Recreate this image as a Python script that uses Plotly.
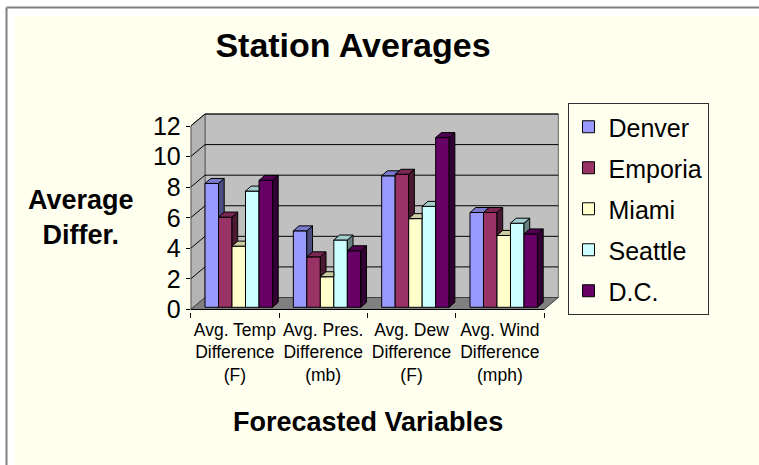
import plotly.graph_objects as go

# ---- data -------------------------------------------------------------
categories = [
    "Avg. Temp<br>Difference<br>(F)",
    "Avg. Pres.<br>Difference<br>(mb)",
    "Avg. Dew<br>Difference<br>(F)",
    "Avg. Wind<br>Difference<br>(mph)",
]
stations = ["Denver", "Emporia", "Miami", "Seattle", "D.C."]
denver = [8.1, 5.0, 8.6, 6.2]
emporia = [5.9, 3.3, 8.7, 6.2]
miami = [4.0, 2.0, 5.8, 4.7]
seattle = [7.6, 4.4, 6.6, 5.5]
dc = [8.3, 3.7, 11.1, 4.8]
y_ticks = [0, 2, 4, 6, 8, 10, 12]

series = [denver, emporia, miami, seattle, dc]
colors = ["#9999FF", "#993366", "#FFFFCC", "#CCFFFF", "#660066"]

# ---- page / projection geometry (pixels) -------------------------------
W, H = 759, 465
FONT = "Liberation Sans, Arial, sans-serif"
X_LEFT_PX = 190.7      # px of x = -0.5 (front-left corner of the box)
UNIT_X = 88.33         # px per category
Y_ZERO_PX = 309.5      # px of y = 0 on the front edge
UNIT_Y = 15.29         # px per value unit

WALL_DX = 14.3 / UNIT_X    # depth of the 3-D box, in axis units
WALL_DY = 12.0 / UNIT_Y
BAR_W = 13.5 / UNIT_X      # bar width
BAR_START = 14.3 / UNIT_X - 0.5
BAR_DX = 5.7 / UNIT_X      # depth of a single bar
BAR_DY = 5.0 / UNIT_Y
LIFT = 2.2 / UNIT_Y        # bars stand slightly back on the floor

x_min, x_max = -0.5, 3.5 + 16.0 / UNIT_X
y_min = -(312.0 - Y_ZERO_PX) / UNIT_Y
y_max = (Y_ZERO_PX - 112.0) / UNIT_Y
x_dom = [X_LEFT_PX / W, (X_LEFT_PX + (x_max - x_min) * UNIT_X) / W]
y_dom = [1 - 312.0 / H, 1 - 112.0 / H]


def px(x):
    return x / W


def py(y):
    return 1 - y / H


def shade(hex_color, f):
    r, g, b = (int(hex_color[i:i + 2], 16) for i in (1, 3, 5))
    return "#%02X%02X%02X" % (int(r * f), int(g * f), int(b * f))


def clip_half(poly, axis, bound, sign):
    out = []
    n = len(poly)
    for i in range(n):
        a, b = poly[i], poly[(i + 1) % n]
        da = sign * (a[axis] - bound)
        db = sign * (b[axis] - bound)
        if da >= 0:
            out.append(a)
        if (da >= 0) != (db >= 0):
            t = da / (da - db)
            out.append((a[0] + t * (b[0] - a[0]), a[1] + t * (b[1] - a[1])))
    return out


def side_face(xr, b, t, h):
    poly = [(xr, b), (xr + BAR_DX, b + BAR_DY), (xr + BAR_DX, t + BAR_DY), (xr, t)]
    if h is not None:
        poly = clip_half(poly, 1, h, 1)
    return poly


def top_face(xl, xr, t, h):
    if h is None or h <= t:
        return [(xl, t), (xl + BAR_DX, t + BAR_DY), (xr + BAR_DX, t + BAR_DY), (xr, t)]
    if h >= t + BAR_DY:
        return [(xl, t), (xl + BAR_DX, t + BAR_DY), (xr, t + BAR_DY), (xr, t)]
    xm = xr + (h - t) / BAR_DY * BAR_DX
    return [(xl, t), (xl + BAR_DX, t + BAR_DY), (xr + BAR_DX, t + BAR_DY),
            (xm, h), (xr, h), (xr, t)]


def to_xy(polys):
    xs, ys = [], []
    for p in polys:
        if len(p) < 3:
            continue
        xs += [q[0] for q in p] + [p[0][0], None]
        ys += [q[1] for q in p] + [p[0][1], None]
    return xs, ys


fig = go.Figure()
cat_idx = list(range(len(categories)))

# front faces of the columns
for k, (name, vals, col) in enumerate(zip(stations, series, colors)):
    fig.add_trace(go.Bar(
        x=cat_idx, y=vals, base=LIFT, name=name, legendgroup=name,
        width=BAR_W, offset=BAR_START + k * BAR_W,
        marker=dict(color=col, line=dict(color="black", width=1)),
    ))

# side and top faces, hidden where the next column stands in front
for k, (vals, col) in enumerate(zip(series, colors)):
    sides, tops = [], []
    for i, v in enumerate(vals):
        xl = i + BAR_START + k * BAR_W
        xr = xl + BAR_W
        t = LIFT + v
        h = LIFT + series[k + 1][i] if k + 1 < len(series) else None
        sides.append(side_face(xr, LIFT, t, h))
        tops.append(top_face(xl, xr, t, h))
    for polys, f in ((sides, 0.5), (tops, 0.8)):
        xs, ys = to_xy(polys)
        fig.add_trace(go.Scatter(
            x=xs, y=ys, mode="lines", fill="toself",
            fillcolor=shade(col, f), line=dict(color="black", width=1),
            showlegend=False, hoverinfo="skip", legendgroup=stations[k],
        ))

# ---- 3-D frame: floor, walls and gridlines -----------------------------
shapes = [
    dict(type="rect", xref="paper", yref="paper", x0=px(15), x1=1, y0=0, y1=py(16),
         fillcolor="#FFFFF0", line=dict(width=0), layer="below"),
    dict(type="line", xref="paper", yref="paper", x0=px(6.5), x1=1, y0=py(7.5), y1=py(7.5),
         line=dict(color="#808080", width=2), layer="below"),
    dict(type="line", xref="paper", yref="paper", x0=px(6.5), x1=px(6.5), y0=0, y1=py(7.5),
         line=dict(color="#808080", width=2), layer="below"),
]
xa, xb = -0.5, 3.5
top_v = y_ticks[-1]
shapes.append(dict(  # back wall
    type="path", xref="x", yref="y", layer="below",
    path=f"M{xa + WALL_DX},{WALL_DY} L{xb + WALL_DX},{WALL_DY} L{xb + WALL_DX},{top_v + WALL_DY} "
         f"L{xa + WALL_DX},{top_v + WALL_DY} Z",
    fillcolor="#C0C0C0", line=dict(color="#606060", width=1)))
shapes.append(dict(  # left wall
    type="path", xref="x", yref="y", layer="below",
    path=f"M{xa},0 L{xa + WALL_DX},{WALL_DY} L{xa + WALL_DX},{top_v + WALL_DY} L{xa},{top_v} Z",
    fillcolor="#B4B4B4", line=dict(color="#606060", width=1)))
shapes.append(dict(  # floor
    type="path", xref="x", yref="y", layer="below",
    path=f"M{xa},0 L{xa + WALL_DX},{WALL_DY} L{xb + WALL_DX},{WALL_DY} L{xb},0 Z",
    fillcolor="#808080", line=dict(color="#404040", width=1)))
for t in y_ticks[1:]:
    shapes.append(dict(type="line", xref="x", yref="y", layer="below",
                       x0=xa + WALL_DX, x1=xb + WALL_DX, y0=t + WALL_DY, y1=t + WALL_DY,
                       line=dict(color="black", width=1)))
    shapes.append(dict(type="line", xref="x", yref="y", layer="below",
                       x0=xa, x1=xa + WALL_DX, y0=t, y1=t + WALL_DY,
                       line=dict(color="black", width=1)))
shapes.append(dict(type="line", xref="x", yref="y", layer="below",
                   x0=xa, x1=xa, y0=0, y1=top_v, line=dict(color="black", width=1)))
shapes.append(dict(type="line", xref="x", yref="y", layer="below",
                   x0=xa, x1=xb, y0=0, y1=0, line=dict(color="black", width=1)))

fig.update_layout(
    width=W, height=H,
    margin=dict(l=0, r=0, t=0, b=0),
    paper_bgcolor="white",
    plot_bgcolor="rgba(0,0,0,0)",
    barmode="overlay",
    font=dict(family=FONT, color="black"),
    shapes=shapes,
    title=dict(text="Station Averages", x=353 / W, xanchor="center",
               y=py(45.5), yanchor="middle",
               font=dict(family=FONT, size=34, weight="bold", color="black")),
    xaxis=dict(
        domain=x_dom, range=[x_min, x_max],
        tickmode="array", tickvals=cat_idx, ticktext=categories,
        ticks="", showgrid=False, zeroline=False, showline=False,
        tickfont=dict(size=17.5), automargin=False, ticklabelstandoff=5,
        minor=dict(tickmode="array", tickvals=[-0.5, 0.5, 1.5, 2.5, 3.5],
                   ticks="outside", ticklen=5, tickcolor="black", showgrid=False),
    ),
    yaxis=dict(
        domain=y_dom, range=[y_min, y_max],
        tickmode="array", tickvals=y_ticks,
        ticks="outside", ticklen=4, tickcolor="black",
        showgrid=False, zeroline=False, showline=False,
        tickfont=dict(size=25), automargin=False,
    ),
    legend=dict(
        x=px(567.5), y=py(103), xanchor="left", yanchor="top",
        bgcolor="#FFFFF0", bordercolor="#303030", borderwidth=1,
        font=dict(size=25, family=FONT),
        traceorder="grouped", tracegroupgap=5.5, entrywidth=108,
    ),
    annotations=[
        dict(text="<b>Average<br>Differ.</b>", xref="paper", yref="paper",
             x=px(81), y=py(217), xanchor="center", yanchor="middle",
             showarrow=False, font=dict(size=27, family=FONT)),
        dict(text="<b>Forecasted Variables</b>", xref="paper", yref="paper",
             x=px(368), y=py(421.7), xanchor="center", yanchor="middle",
             showarrow=False, font=dict(size=27, family=FONT)),
    ],
)

fig.write_html("out.html")
